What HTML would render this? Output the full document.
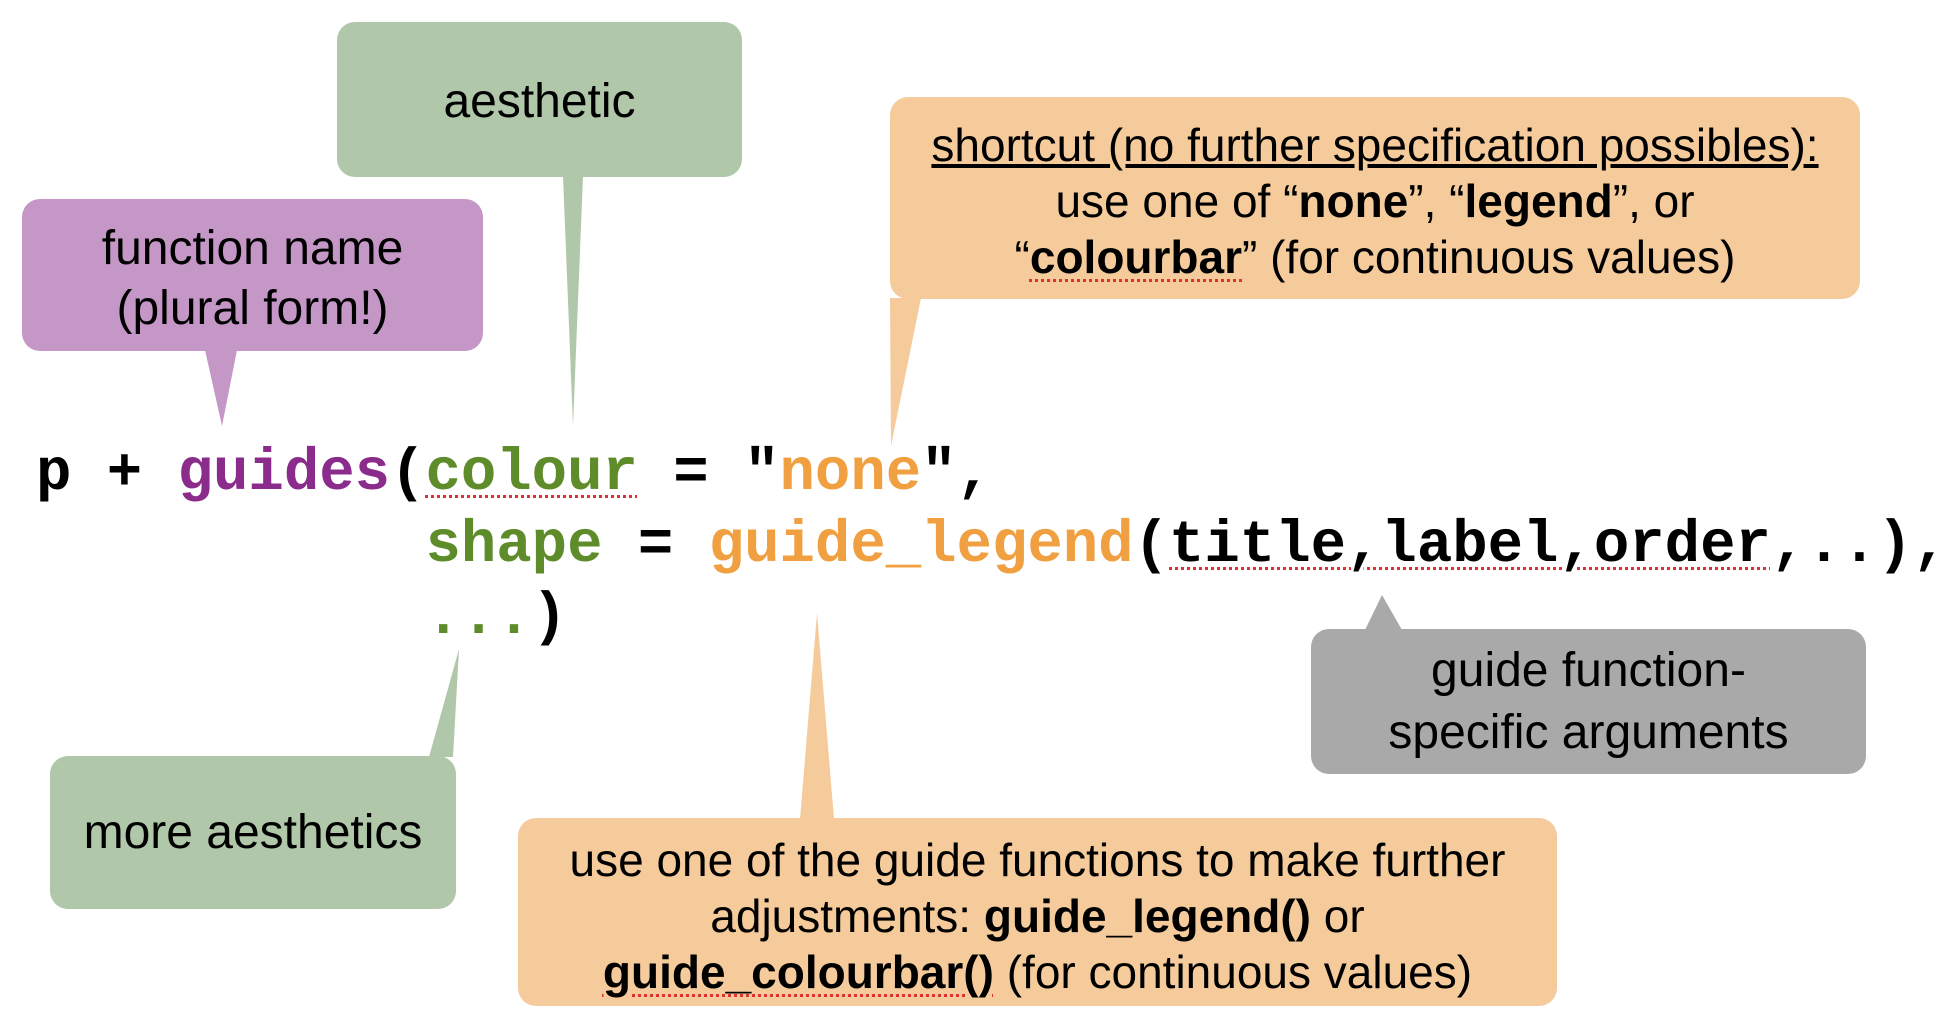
<!DOCTYPE html>
<html><head><meta charset="utf-8">
<style>
body{margin:0;width:1952px;height:1030px;background:#fff;position:relative;overflow:hidden;font-family:"Liberation Sans",sans-serif;}
.box{position:absolute;border-radius:18px;}
.t{position:absolute;left:0;right:0;text-align:center;white-space:nowrap;color:#000;font-size:46px;line-height:56px;}
.code{position:absolute;font-family:"Liberation Mono",monospace;font-weight:bold;font-size:59px;line-height:72px;white-space:pre;color:#000;}
.pu{color:#8b2c8c}.gr{color:#5f8c2a}.or{color:#f0a040}
.sq{text-decoration:underline dotted #e03030;text-decoration-thickness:3px;text-underline-offset:6px;}
b{font-weight:bold}
</style></head><body>
<svg width="1952" height="1030" style="position:absolute;left:0;top:0">
<polygon points="563,176 583,176 573,426" fill="#b0c7a9"/>
<polygon points="205,350 237,350 222,426" fill="#c497c6"/>
<polygon points="890,298 921,298 891,446" fill="#f6cb9c"/>
<polygon points="1365,630 1402,630 1382,595" fill="#a9a9a9"/>
<polygon points="429,757 453,757 459,649" fill="#b0c7a9"/>
<polygon points="800,819 834,819 817,613" fill="#f6cb9c"/>
</svg>
<div class="box" style="left:337px;top:22px;width:405px;height:155px;background:#b0c7a9">
 <div class="t" style="top:52px;font-size:48px">aesthetic</div></div>
<div class="box" style="left:22px;top:199px;width:461px;height:152px;background:#c497c6">
 <div class="t" style="top:20px;font-size:48px;line-height:60px">function name<br>(plural form!)</div></div>
<div class="box" style="left:890px;top:97px;width:970px;height:202px;background:#f6cb9c">
 <div class="t" style="top:20px;line-height:56px"><u>shortcut (no further specification possibles):</u><br>use one of “<b>none</b>”, “<b>legend</b>”, or<br>“<b class="sq">colourbar</b>” (for continuous values)</div></div>
<div class="box" style="left:1311px;top:629px;width:555px;height:145px;background:#a9a9a9">
 <div class="t" style="top:11px;font-size:48px;line-height:62px">guide function-<br>specific arguments</div></div>
<div class="box" style="left:50px;top:756px;width:406px;height:153px;background:#b0c7a9">
 <div class="t" style="top:49px;font-size:48px">more aesthetics</div></div>
<div class="box" style="left:518px;top:818px;width:1039px;height:188px;background:#f6cb9c">
 <div class="t" style="top:14px;line-height:56px">use one of the guide functions to make further<br>adjustments: <b>guide_legend()</b> or<br><b class="sq">guide_colourbar()</b> (for continuous values)</div></div>
<div class="code" style="left:36px;top:438px">p + <span class="pu">guides</span>(<span class="gr sq">colour</span> = "<span class="or">none</span>",
           <span class="gr">shape</span> = <span class="or">guide_legend</span>(<span class="sq">title,label,order</span>,..),
           <span class="gr">...</span>)</div>
</body></html>
